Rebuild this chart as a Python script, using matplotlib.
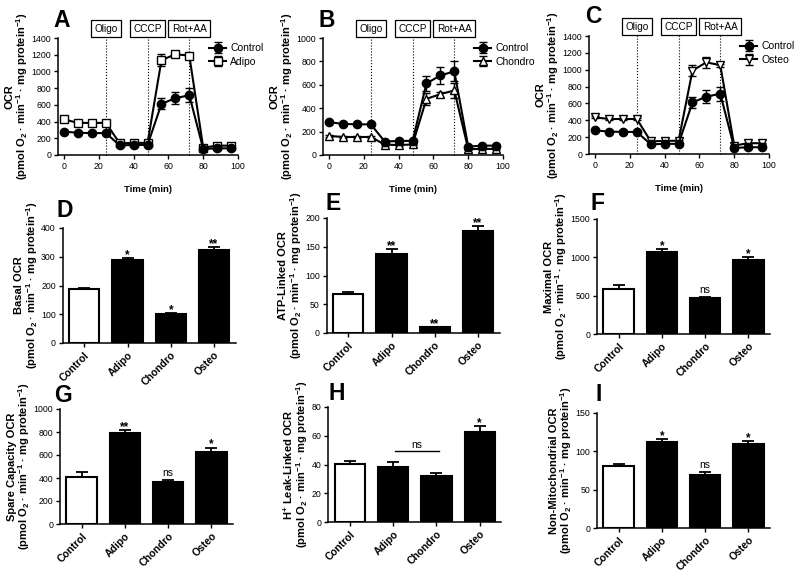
import matplotlib.pyplot as plt
from matplotlib.transforms import blended_transform_factory

plt.rcParams['font.family'] = ['Liberation Sans', 'DejaVu Sans']
plt.rcParams['mathtext.fontset'] = 'custom'
plt.rcParams['mathtext.rm'] = 'Liberation Sans:bold'
plt.rcParams['mathtext.bf'] = 'Liberation Sans:bold'
plt.rcParams['mathtext.it'] = 'Liberation Sans:bold'
plt.rcParams['mathtext.default'] = 'bf'

# --- time course (seahorse trace) ---
time_min = [0, 8, 16, 24, 32, 40, 48, 56, 64, 72, 80, 88, 96]
control_ocr = [280, 266, 262, 262, 115, 120, 121, 612, 680, 715, 72, 80, 80]
control_err = [8, 8, 8, 8, 10, 10, 10, 65, 75, 85, 6, 6, 6]
adipo_ocr = [425, 385, 383, 385, 140, 145, 145, 1135, 1205, 1190, 88, 112, 112]
adipo_err = [10, 10, 10, 10, 10, 10, 10, 75, 30, 30, 6, 6, 6]
chondro_ocr = [163, 154, 154, 154, 89, 85, 90, 480, 520, 552, 50, 52, 52]
chondro_err = [8, 8, 8, 8, 8, 8, 8, 50, 20, 62, 5, 5, 5]
osteo_ocr = [435, 415, 415, 415, 150, 155, 158, 990, 1088, 1053, 100, 128, 128]
osteo_err = [10, 10, 10, 10, 10, 10, 10, 70, 65, 20, 6, 6, 6]

injections = ['Oligo', 'CCCP', 'Rot+AA']
injection_times = [24, 48, 72]

# --- summary bars ---
groups = ['Control', 'Adipo', 'Chondro', 'Osteo']
basal = [189, 287, 102, 325]
basal_err = [3, 8, 2, 10]
basal_sig = ['', '*', '*', '**']
atp = [67, 138, 10, 177]
atp_err = [5, 8, 1, 9]
atp_sig = ['', '**', '**', '**']
maximal = [592, 1074, 465, 965]
maximal_err = [43, 35, 18, 35]
maximal_sig = ['', '*', 'ns', '*']
spare = [405, 789, 364, 630]
spare_err = [43, 29, 17, 35]
spare_sig = ['', '**', 'ns', '*']
leak = [40.1, 38.2, 31.8, 62.7]
leak_err = [2.5, 3.8, 2.5, 3.9]
leak_sig = ['', '', '', '*']
nonmito = [81, 112, 69, 109]
nonmito_err = [3, 4, 4, 4]
nonmito_sig = ['', '*', 'ns', '*']

W, H = 800, 571
UNITS = '(pmol O$_2$ · min$^{-1}$ · mg protein$^{-1}$)'

fig = plt.figure(figsize=(8, 5.71), dpi=100)


def rect(left, right, top, bottom):
    return [left / W, 1 - bottom / H, (right - left) / W, (bottom - top) / H]


def style(ax):
    for s in ['top', 'right']:
        ax.spines[s].set_visible(False)
    for s in ['left', 'bottom']:
        ax.spines[s].set_linewidth(1.1)
    ax.tick_params(direction='out', length=3, width=1, labelsize=6.3, pad=2)


def ylab(ax, first):
    ax.set_ylabel(first + '\n' + UNITS, fontsize=8, fontweight='bold', labelpad=1,
                  linespacing=0.95)


def letter(ch, x, y):
    fig.text(x / W, 1 - y / H, ch, fontsize=16.5, fontweight='bold', ha='center', va='baseline')


def trace(pos, other, other_err, other_name, marker, ymax):
    ax = fig.add_axes(rect(*pos))
    style(ax)
    ax.errorbar(time_min, other, yerr=other_err, color='black', lw=1.5, marker=marker,
                ms=6, mfc='white', mec='black', mew=1, capsize=3, elinewidth=1,
                label=other_name, zorder=3)
    ax.errorbar(time_min, control_ocr, yerr=control_err, color='black', lw=1.5, marker='o',
                ms=6, mfc='black', mec='black', capsize=3, elinewidth=1,
                label='Control', zorder=4)
    ax.set_xlim(-3.5, 100)
    ax.set_ylim(0, ymax)
    ax.set_xticks(range(0, 101, 20))
    ax.set_yticks(range(0, ymax + 1, 200))
    ax.set_xlabel('Time (min)', fontsize=6.8, fontweight='bold', labelpad=10)
    ylab(ax, 'OCR')
    trans = blended_transform_factory(ax.transData, ax.transAxes)
    for name, t in zip(injections, injection_times):
        ax.axvline(t, ymin=0, ymax=1.03, color='black', ls=':', lw=0.8, clip_on=False, zorder=1)
        ax.text(t, 1.077, name, transform=trans, fontsize=7.2, ha='center', va='center',
                bbox=dict(boxstyle='square,pad=0.35', fc='white', ec='black', lw=0.9))
    h, l = ax.get_legend_handles_labels()
    ax.legend(h[::-1], l[::-1], loc='upper left', bbox_to_anchor=(0.84, 0.955), frameon=False,
              fontsize=7.5, handlelength=1.6, handletextpad=0.4, labelspacing=0.35,
              borderpad=0, borderaxespad=0)
    return ax


def bars(pos, vals, errs, sig, ylabel, ymax, step):
    ax = fig.add_axes(rect(*pos))
    style(ax)
    x = range(len(groups))
    colors = ['white', 'black', 'black', 'black']
    lower = [0] * len(errs)
    ax.bar(x, vals, width=0.7, color=colors, edgecolor='black', linewidth=1.5, zorder=2)
    ax.errorbar(x, vals, yerr=[lower, errs], fmt='none', ecolor='black', elinewidth=1.3,
                capsize=4, capthick=1.3, zorder=3)
    for i, s in enumerate(sig):
        if not s:
            continue
        off = 3 if s == 'ns' else 0
        ax.annotate(s, (i, vals[i] + errs[i]), xytext=(0, off), textcoords='offset points',
                    ha='center', va='baseline', fontsize=7.5 if s == 'ns' else 8.5,
                    fontweight='bold' if s != 'ns' else 'normal')
    ax.set_xlim(-0.5, 3.5)
    ax.set_ylim(0, ymax)
    ax.set_yticks([v * step for v in range(int(round(ymax / step)) + 1)])
    ax.set_xticks(list(x))
    ax.set_xticklabels(groups, rotation=45, ha='right', rotation_mode='anchor',
                       fontsize=7.5, fontweight='bold')
    ylab(ax, ylabel)
    return ax


trace((58, 238, 38, 155), adipo_ocr, adipo_err, 'Adipo', 's', 1400)
trace((323, 503, 38, 155), chondro_ocr, chondro_err, 'Chondro', '^', 1000)
trace((589, 769, 36, 154), osteo_ocr, osteo_err, 'Osteo', 'v', 1400)

bars((62.7, 235.7, 228, 343), basal, basal_err, basal_sig, 'Basal OCR', 400, 100)
bars((326.7, 499.7, 218, 333), atp, atp_err, atp_sig, 'ATP-Linked OCR', 200, 50)
bars((597, 770, 219, 334), maximal, maximal_err, maximal_sig, 'Maximal OCR', 1500, 500)
bars((60, 233, 409, 524), spare, spare_err, spare_sig, 'Spare Capacity OCR', 1000, 200)
axh = bars((328.3, 501.3, 407, 522), leak, leak_err, leak_sig, 'H$^{+}$ Leak-Linked OCR', 80, 20)
bars((597, 770, 413, 528), nonmito, nonmito_err, nonmito_sig, 'Non-Mitochondrial OCR', 150, 50)

# ns bracket between Adipo and Chondro in H
axh.plot([1.05, 2.05], [49.5, 49.5], color='black', lw=1)
axh.text(1.55, 51.5, 'ns', ha='center', va='baseline', fontsize=7.5)

letter('A', 62, 27)
letter('B', 327, 27)
letter('C', 593, 23)
letter('D', 65, 217)
letter('E', 333, 210)
letter('F', 598, 210)
letter('G', 63, 402)
letter('H', 337, 400)
letter('I', 599, 401)

fig.savefig('out.png', dpi=100)
